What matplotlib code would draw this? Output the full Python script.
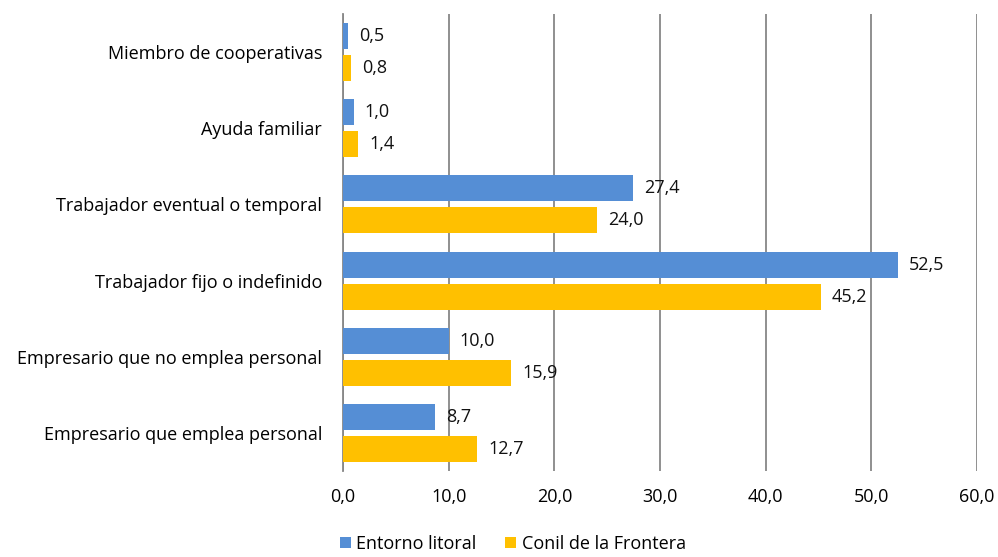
import matplotlib.pyplot as plt
import numpy as np

categorias = ["Miembro de cooperativas", "Ayuda familiar", "Trabajador eventual o temporal",
              "Trabajador fijo o indefinido", "Empresario que no emplea personal",
              "Empresario que emplea personal"]
entorno = [0.5, 1.0, 27.4, 52.5, 10.0, 8.7]
conil = [0.8, 1.4, 24.0, 45.2, 15.9, 12.7]
ticks_x = [0, 10, 20, 30, 40, 50, 60]

azul = "#558ED5"
amarillo = "#FFC000"

plt.rcParams['font.family'] = ['Open Sans', 'DejaVu Sans']
fs = 13

fig = plt.figure(figsize=(9.98, 5.57), dpi=100)
ax = fig.add_axes([0.3437, 1 - 471 / 557, 0.979 - 0.3437, 457 / 557])

y = np.arange(len(categorias))
h = 0.34
sep = 0.21
b1 = ax.barh(y - sep, entorno, height=h, color=azul, label="Entorno litoral", zorder=3)
b2 = ax.barh(y + sep, conil, height=h, color=amarillo, label="Conil de la Frontera", zorder=3)

for barras, vals in ((b1, entorno), (b2, conil)):
    for barra, v in zip(barras, vals):
        ax.annotate("{:.1f}".format(v).replace(".", ","),
                    (v, barra.get_y() + barra.get_height() / 2),
                    xytext=(8, 0), textcoords="offset points",
                    va="center", ha="left", fontsize=fs, color="#111111")

ax.set_xlim(0, 60)
ax.set_ylim(len(categorias) - 0.5, -0.5)
ax.set_xticks(ticks_x)
ax.set_xticklabels(["{:.1f}".format(t).replace(".", ",") for t in ticks_x], fontsize=fs)
ax.set_yticks(y)
ax.set_yticklabels(categorias, fontsize=fs)
ax.tick_params(axis="y", length=0, pad=15)
ax.tick_params(axis="x", length=0, pad=12)
ax.grid(axis="x", color="#878787", linewidth=1.3, zorder=0)
for s in ["top", "right", "bottom"]:
    ax.spines[s].set_visible(False)
ax.spines["left"].set_color("#878787")
ax.spines["left"].set_linewidth(1.3)

fig.legend(handles=[b1, b2], loc="lower center", bbox_to_anchor=(0.514, -0.022), ncol=2,
           frameon=False, fontsize=fs, handlelength=0.6, handleheight=0.6,
           handletextpad=0.3, columnspacing=1.6)

fig.savefig("out.png", dpi=100)
